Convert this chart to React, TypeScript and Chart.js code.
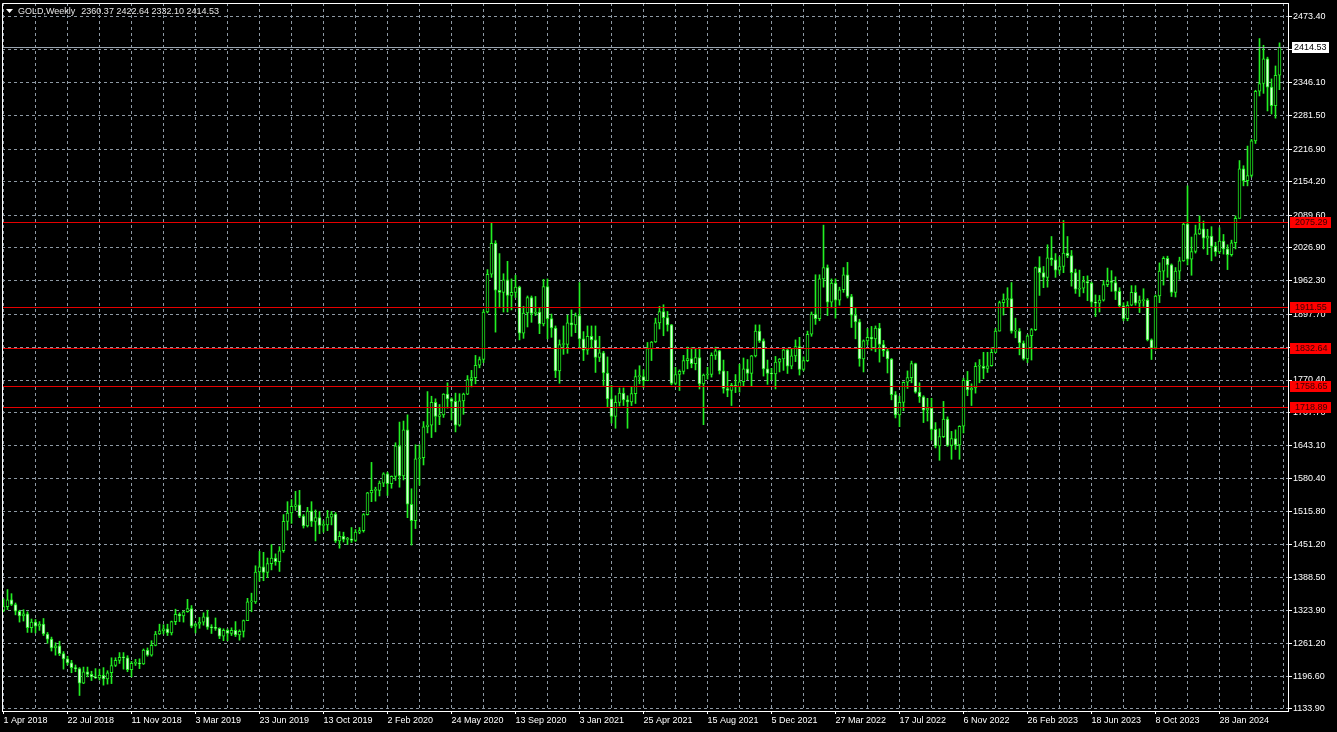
import React, { useEffect, useRef } from "react";
import { Chart, registerables } from "chart.js";

Chart.register(...registerables);

// Weekly OHLC bars [open, high, low, close], weeks starting 1 Apr 2018
const bars2018: number[][] = [
  [1325, 1347, 1322, 1332], [1332, 1365, 1326, 1345], [1345, 1357, 1334, 1336], [1336, 1339, 1316, 1323],
  [1323, 1325, 1302, 1314], [1314, 1326, 1304, 1318], [1318, 1322, 1282, 1291], [1291, 1308, 1282, 1302],
  [1302, 1307, 1281, 1294], [1294, 1303, 1286, 1298], [1298, 1309, 1276, 1279], [1279, 1282, 1261, 1269],
  [1269, 1273, 1246, 1252], [1252, 1262, 1238, 1256], [1256, 1265, 1237, 1241], [1241, 1245, 1211, 1231],
  [1231, 1236, 1219, 1223], [1223, 1228, 1204, 1214], [1214, 1219, 1206, 1212], [1212, 1214, 1160, 1184],
  [1184, 1215, 1183, 1206], [1206, 1215, 1196, 1201], [1201, 1207, 1189, 1196], [1196, 1212, 1193, 1194],
  [1194, 1211, 1190, 1199], [1199, 1214, 1180, 1192], [1192, 1208, 1182, 1204], [1204, 1233, 1183, 1218],
  [1218, 1233, 1216, 1228], [1228, 1243, 1222, 1234], [1234, 1243, 1211, 1233], [1233, 1237, 1206, 1210],
  [1210, 1226, 1196, 1222], [1222, 1230, 1218, 1222], [1222, 1231, 1212, 1221], [1221, 1250, 1220, 1248],
  [1248, 1252, 1236, 1238], [1238, 1266, 1236, 1257], [1257, 1284, 1256, 1279], [1279, 1298, 1278, 1285],
];
const bars2019: number[][] = [
  [1285, 1297, 1279, 1289], [1289, 1298, 1276, 1281], [1281, 1304, 1277, 1303], [1303, 1327, 1297, 1317],
  [1317, 1320, 1303, 1314], [1314, 1324, 1302, 1322], [1322, 1346, 1321, 1328], [1328, 1334, 1291, 1294],
  [1294, 1300, 1281, 1298], [1298, 1311, 1290, 1302], [1302, 1320, 1296, 1312], [1312, 1325, 1288, 1292],
  [1292, 1297, 1280, 1291], [1291, 1310, 1286, 1290], [1290, 1291, 1270, 1275], [1275, 1289, 1266, 1286],
  [1286, 1289, 1266, 1280], [1280, 1291, 1276, 1286], [1286, 1303, 1274, 1277], [1277, 1287, 1267, 1284],
  [1284, 1306, 1273, 1305], [1305, 1348, 1305, 1341], [1341, 1358, 1322, 1341], [1341, 1411, 1338, 1399],
  [1399, 1439, 1381, 1409], [1409, 1437, 1382, 1398], [1398, 1426, 1388, 1415], [1415, 1452, 1403, 1426],
  [1426, 1434, 1412, 1419], [1419, 1448, 1400, 1440], [1440, 1510, 1437, 1497], [1497, 1535, 1480, 1513],
  [1513, 1539, 1493, 1526], [1526, 1555, 1518, 1529], [1529, 1557, 1504, 1507], [1507, 1510, 1484, 1488],
  [1488, 1524, 1486, 1517], [1517, 1535, 1487, 1497], [1497, 1519, 1459, 1504], [1504, 1516, 1473, 1489],
  [1489, 1498, 1476, 1490], [1490, 1518, 1479, 1505], [1505, 1516, 1490, 1511], [1511, 1514, 1456, 1459],
  [1459, 1477, 1445, 1468], [1468, 1476, 1457, 1462], [1462, 1466, 1452, 1463], [1463, 1485, 1456, 1460],
  [1460, 1481, 1458, 1476], [1476, 1485, 1473, 1479], [1479, 1512, 1476, 1510], [1510, 1553, 1509, 1552],
];
const bars2020: number[][] = [
  [1552, 1611, 1535, 1557], [1557, 1563, 1536, 1557], [1557, 1575, 1546, 1571], [1571, 1591, 1564, 1589],
  [1589, 1592, 1547, 1570], [1570, 1585, 1561, 1584], [1584, 1649, 1576, 1643], [1643, 1689, 1563, 1585],
  [1585, 1691, 1577, 1674], [1674, 1703, 1504, 1530], [1530, 1560, 1451, 1498], [1498, 1645, 1483, 1618],
  [1618, 1645, 1567, 1620], [1620, 1690, 1606, 1680], [1680, 1748, 1668, 1683], [1683, 1739, 1659, 1727],
  [1727, 1734, 1670, 1700], [1700, 1723, 1684, 1703], [1703, 1744, 1698, 1743], [1743, 1765, 1716, 1734],
  [1734, 1736, 1693, 1729], [1729, 1745, 1670, 1683], [1683, 1744, 1681, 1730], [1730, 1745, 1704, 1743],
  [1743, 1779, 1742, 1771], [1771, 1789, 1757, 1775], [1775, 1818, 1763, 1799], [1799, 1815, 1794, 1810],
  [1810, 1906, 1804, 1902], [1902, 1984, 1900, 1975], [1975, 2075, 1969, 2035], [2035, 2040, 1863, 1944],
  [1944, 2015, 1910, 1940], [1940, 1976, 1902, 1964], [1964, 2000, 1902, 1934], [1934, 1966, 1906, 1940],
  [1940, 1973, 1930, 1950], [1950, 1952, 1848, 1861], [1861, 1913, 1851, 1900], [1900, 1933, 1873, 1930],
  [1930, 1933, 1882, 1899], [1899, 1932, 1895, 1902], [1902, 1911, 1860, 1879], [1879, 1965, 1875, 1951],
  [1951, 1966, 1850, 1889], [1889, 1898, 1853, 1871], [1871, 1875, 1775, 1788], [1788, 1848, 1764, 1839],
  [1839, 1875, 1820, 1839], [1839, 1896, 1822, 1881], [1881, 1906, 1855, 1877], [1877, 1900, 1862, 1895],
];
const bars2021: number[][] = [
  [1895, 1959, 1834, 1850], [1850, 1864, 1808, 1828], [1828, 1875, 1820, 1855], [1855, 1875, 1832, 1848],
  [1848, 1875, 1785, 1814], [1814, 1855, 1806, 1823], [1823, 1826, 1760, 1784], [1784, 1815, 1717, 1734],
  [1734, 1760, 1687, 1700], [1700, 1740, 1677, 1727], [1727, 1755, 1720, 1745], [1745, 1755, 1721, 1732],
  [1732, 1740, 1677, 1728], [1728, 1758, 1721, 1744], [1744, 1790, 1725, 1777], [1777, 1798, 1763, 1777],
  [1777, 1790, 1756, 1769], [1769, 1843, 1769, 1831], [1831, 1845, 1808, 1844], [1844, 1890, 1843, 1881],
  [1881, 1913, 1869, 1903], [1903, 1916, 1856, 1891], [1891, 1903, 1865, 1877], [1877, 1878, 1761, 1764],
  [1764, 1795, 1761, 1781], [1781, 1790, 1750, 1787], [1787, 1818, 1782, 1808], [1808, 1834, 1792, 1812],
  [1812, 1833, 1794, 1802], [1802, 1832, 1790, 1814], [1814, 1832, 1753, 1763], [1763, 1782, 1684, 1780],
  [1780, 1795, 1772, 1781], [1781, 1823, 1776, 1818], [1818, 1834, 1810, 1827], [1827, 1828, 1782, 1788],
  [1788, 1809, 1745, 1754], [1754, 1787, 1738, 1750], [1750, 1764, 1721, 1760], [1760, 1781, 1746, 1757],
  [1757, 1801, 1747, 1767], [1767, 1813, 1759, 1792], [1792, 1810, 1771, 1783], [1783, 1818, 1758, 1817],
  [1817, 1877, 1815, 1865], [1865, 1877, 1843, 1846], [1846, 1850, 1778, 1792], [1792, 1809, 1762, 1783],
  [1783, 1793, 1770, 1782], [1782, 1816, 1753, 1805], [1805, 1812, 1786, 1811], [1811, 1831, 1789, 1829],
];
const bars2022: number[][] = [
  [1829, 1832, 1783, 1797], [1797, 1830, 1792, 1817], [1817, 1848, 1806, 1835], [1835, 1853, 1780, 1791],
  [1791, 1815, 1788, 1808], [1808, 1865, 1806, 1859], [1859, 1902, 1855, 1898], [1898, 1974, 1878, 1889],
  [1889, 1974, 1885, 1966], [1966, 2070, 1950, 1988], [1988, 1993, 1895, 1921], [1921, 1966, 1910, 1958],
  [1958, 1966, 1890, 1925], [1925, 1950, 1915, 1945], [1945, 1988, 1940, 1974], [1974, 1998, 1929, 1932],
  [1932, 1936, 1872, 1896], [1896, 1909, 1850, 1883], [1883, 1888, 1797, 1811], [1811, 1848, 1786, 1846],
  [1846, 1870, 1838, 1853], [1853, 1874, 1828, 1850], [1850, 1875, 1825, 1871], [1871, 1880, 1805, 1839],
  [1839, 1847, 1816, 1827], [1827, 1830, 1784, 1811], [1811, 1812, 1732, 1742], [1742, 1748, 1697, 1703],
  [1703, 1739, 1680, 1727], [1727, 1767, 1711, 1766], [1766, 1788, 1754, 1775], [1775, 1807, 1765, 1802],
  [1802, 1803, 1745, 1747], [1747, 1765, 1727, 1738], [1738, 1740, 1688, 1712], [1712, 1735, 1691, 1716],
  [1716, 1735, 1654, 1675], [1675, 1688, 1639, 1643], [1643, 1676, 1615, 1661], [1661, 1729, 1659, 1695],
  [1695, 1699, 1642, 1644], [1644, 1671, 1617, 1657], [1657, 1674, 1636, 1645], [1645, 1682, 1617, 1681],
  [1681, 1774, 1668, 1770], [1770, 1787, 1740, 1751], [1751, 1763, 1721, 1755], [1755, 1804, 1745, 1797],
  [1797, 1810, 1765, 1797], [1797, 1824, 1773, 1793], [1793, 1824, 1785, 1798], [1798, 1833, 1797, 1824],
];
const bars2023: number[][] = [
  [1824, 1870, 1823, 1865], [1865, 1923, 1865, 1920], [1920, 1937, 1896, 1926], [1926, 1949, 1911, 1928],
  [1928, 1959, 1861, 1865], [1865, 1890, 1852, 1865], [1865, 1870, 1819, 1842], [1842, 1846, 1809, 1811],
  [1811, 1858, 1804, 1856], [1856, 1870, 1809, 1868], [1868, 1989, 1866, 1988], [1988, 2009, 1934, 1978],
  [1978, 1990, 1949, 1969], [1969, 2032, 1950, 2007], [2007, 2048, 1992, 2003], [2003, 2015, 1969, 1983],
  [1983, 2009, 1975, 1990], [1990, 2079, 1978, 2016], [2016, 2048, 2007, 2011], [2011, 2021, 1952, 1978],
  [1978, 1985, 1938, 1946], [1946, 1983, 1932, 1948], [1948, 1971, 1939, 1961], [1961, 1972, 1924, 1958],
  [1958, 1960, 1910, 1921], [1921, 1935, 1893, 1919], [1919, 1934, 1902, 1925], [1925, 1963, 1923, 1955],
  [1955, 1987, 1951, 1962], [1962, 1982, 1942, 1959], [1959, 1970, 1926, 1942], [1942, 1949, 1912, 1914],
  [1914, 1920, 1885, 1889], [1889, 1922, 1885, 1915], [1915, 1953, 1914, 1940], [1940, 1953, 1915, 1919],
  [1919, 1933, 1901, 1924], [1924, 1947, 1913, 1925], [1925, 1928, 1846, 1848], [1848, 1850, 1810, 1832],
  [1832, 1935, 1830, 1933], [1933, 1997, 1920, 1981], [1981, 2009, 1954, 2006], [2006, 2010, 1969, 1993],
  [1993, 1995, 1932, 1940], [1940, 1988, 1931, 1981], [1981, 2008, 1965, 2001], [2001, 2075, 2000, 2072],
  [2072, 2146, 1993, 2004], [2004, 2047, 1973, 2019], [2019, 2070, 2016, 2053], [2053, 2088, 2052, 2063],
  [2063, 2078, 2024, 2045],
];
const bars2024: number[][] = [
  [2045, 2062, 2013, 2049], [2049, 2067, 2001, 2029], [2029, 2037, 2010, 2018], [2018, 2065, 2015, 2039],
  [2039, 2052, 2014, 2024], [2024, 2032, 1984, 2013], [2013, 2041, 2010, 2036], [2036, 2088, 2024, 2083],
  [2083, 2195, 2083, 2179], [2179, 2185, 2146, 2156], [2156, 2223, 2146, 2166], [2166, 2236, 2163, 2233],
  [2233, 2331, 2228, 2329], [2329, 2431, 2320, 2344], [2344, 2418, 2325, 2392], [2392, 2395, 2291, 2337],
  [2337, 2353, 2285, 2301], [2301, 2378, 2277, 2360], [2360.37, 2422.64, 2332.1, 2414.53],
];

const weeklyBars = [...bars2018, ...bars2019, ...bars2020, ...bars2021, ...bars2022, ...bars2023, ...bars2024];

// x-axis labels, one every 16 weeks
const xTickLabels = [
  "1 Apr 2018", "22 Jul 2018", "11 Nov 2018", "3 Mar 2019", "23 Jun 2019", "13 Oct 2019", "2 Feb 2020",
  "24 May 2020", "13 Sep 2020", "3 Jan 2021", "25 Apr 2021", "15 Aug 2021", "5 Dec 2021", "27 Mar 2022",
  "17 Jul 2022", "6 Nov 2022", "26 Feb 2023", "18 Jun 2023", "8 Oct 2023", "28 Jan 2024",
];
// price axis tick values
const yTickValues = [
  1133.9, 1196.6, 1261.2, 1323.9, 1388.5, 1451.2, 1515.8, 1580.4, 1643.1, 1707.7, 1770.4,
  1833.1, 1897.7, 1962.3, 2026.9, 2089.6, 2154.2, 2216.9, 2281.5, 2346.1, 2410.7, 2473.4,
];
const levelPrices = [2075.29, 1911.55, 1832.64, 1758.65, 1718.89];
const lastPrice = 2414.53;
const headerSymbol = "GOLD,Weekly";
const headerValues = "2360.37 2422.64 2332.10 2414.53";

const Y_MIN = 1130.0;
const Y_MAX = 2499.8;
const X_MIN = -0.375;
const X_MAX = 321.125;

const FONT_FAMILY = '"Liberation Sans", Arial, sans-serif';
const GREEN = "#22ee22";
const BEAR_FILL = "#d8ffd8";
const GRID = "#8e99a4";

export default function App() {
  const ref = useRef<HTMLCanvasElement | null>(null);

  useEffect(() => {
    document.body.style.margin = "0";
    document.body.style.background = "#000";
    const canvas = ref.current;
    if (!canvas) return;

    const bodies = weeklyBars.map((b, i) => ({ x: i, y: [b[0], b[3]] }));
    const wicks = weeklyBars.map((b, i) => ({ x: i, y: [b[2], b[1]] }));
    const bull = weeklyBars.map((b) => b[3] >= b[0]);

    const overlay = {
      id: "mt4Overlay",
      beforeDraw(chart: any) {
        const c = chart.ctx;
        c.save();
        c.fillStyle = "#000";
        c.fillRect(0, 0, chart.width, chart.height);
        c.restore();
      },
      afterDraw(chart: any) {
        const c = chart.ctx as CanvasRenderingContext2D;
        const a = chart.chartArea;
        const ys = chart.scales.y;
        c.save();
        // frame top/left
        c.strokeStyle = "#ffffff";
        c.lineWidth = 1;
        c.beginPath();
        c.moveTo(a.left + 0.5, a.bottom);
        c.lineTo(a.left + 0.5, a.top + 0.5);
        c.lineTo(a.right, a.top + 0.5);
        c.stroke();

        // current price line
        const py = Math.round(ys.getPixelForValue(lastPrice)) + 0.5;
        c.strokeStyle = "#9ba5b0";
        c.beginPath();
        c.moveTo(a.left + 1, py);
        c.lineTo(a.right, py);
        c.stroke();

        // horizontal levels
        c.strokeStyle = "#e60000";
        levelPrices.forEach((p) => {
          const y = Math.round(ys.getPixelForValue(p)) + 0.5;
          c.beginPath();
          c.moveTo(a.left + 1, y);
          c.lineTo(a.right, y);
          c.stroke();
        });

        c.font = `9px ${FONT_FAMILY}`;
        c.textBaseline = "middle";
        c.textAlign = "left";
        levelPrices.forEach((p) => {
          const y = Math.round(ys.getPixelForValue(p));
          c.fillStyle = "#ff0000";
          c.fillRect(a.right + 2, y - 5, 41, 11);
          c.fillStyle = "#3a0000";
          c.fillText(p.toFixed(2), a.right + 7, y + 0.5);
        });
        const ly = Math.round(ys.getPixelForValue(lastPrice));
        c.fillStyle = "#ffffff";
        c.fillRect(a.right + 4, ly - 5, 37, 11);
        c.fillStyle = "#000000";
        c.fillText(lastPrice.toFixed(2), a.right + 6, ly + 0.5);

        // header
        c.fillStyle = "#ffffff";
        c.beginPath();
        c.moveTo(6, 9);
        c.lineTo(13, 9);
        c.lineTo(9.5, 13);
        c.closePath();
        c.fill();
        c.fillStyle = "#e6e6e6";
        c.fillText(headerSymbol, 18, 11.5);
        const w = c.measureText(headerSymbol + "  ").width;
        c.fillText(headerValues, 18 + w + 1, 11.5);
        c.restore();
      },
    };

    const chart = new Chart(canvas, {
      type: "bar",
      data: {
        datasets: [
          {
            label: "body",
            data: bodies as any,
            order: 0,
            grouped: false,
            barThickness: 3,
            borderWidth: 1,
            borderColor: GREEN,
            borderSkipped: false,
            minBarLength: 1,
            backgroundColor: (ctx: any) => (bull[ctx.dataIndex] ? "#000000" : BEAR_FILL),
          } as any,
          {
            label: "wick",
            data: wicks as any,
            order: 1,
            grouped: false,
            barThickness: 1,
            borderWidth: 0,
            backgroundColor: GREEN,
          } as any,
        ],
      },
      options: {
        animation: false,
        responsive: false,
        maintainAspectRatio: false,
        events: [],
        layout: { padding: { left: 2, top: 3, right: 0, bottom: 0 } },
        plugins: { legend: { display: false }, tooltip: { enabled: false }, title: { display: false } },
        scales: {
          x: {
            type: "linear",
            min: X_MIN,
            max: X_MAX,
            offset: false,
            afterBuildTicks: (s: any) => {
              const t = [];
              for (let v = 0; v <= 320; v += 8) t.push({ value: v });
              s.ticks = t;
            },
            afterFit: (s: any) => {
              s.height = 21;
              s.paddingLeft = 0;
              s.paddingRight = 0;
              s.paddingTop = 0;
              s.paddingBottom = 0;
            },
            grid: {
              display: true,
              offset: false,
              color: GRID,
              lineWidth: 1,
              drawTicks: true,
              tickLength: 3,
              tickWidth: 1,
              tickBorderDash: [],
              tickColor: (ctx: any) => {
                const v = ctx.tick ? ctx.tick.value : -1;
                return v % 16 === 0 && v / 16 < xTickLabels.length ? "#ffffff" : "rgba(0,0,0,0)";
              },
            },
            border: { display: true, color: "#ffffff", width: 1, dash: [3, 3] },
            ticks: {
              autoSkip: false,
              maxRotation: 0,
              minRotation: 0,
              align: "start",
              padding: 1,
              color: "#ffffff",
              font: { family: FONT_FAMILY, size: 9 },
              callback: (v: any) => {
                const n = Number(v);
                return n % 16 === 0 && n / 16 < xTickLabels.length ? xTickLabels[n / 16] : "";
              },
            },
          } as any,
          y: {
            type: "linear",
            position: "right",
            min: Y_MIN,
            max: Y_MAX,
            afterBuildTicks: (s: any) => {
              s.ticks = yTickValues.map((v) => ({ value: v }));
            },
            afterFit: (s: any) => {
              s.width = 49;
              s.paddingTop = 0;
              s.paddingBottom = 0;
              s.paddingLeft = 0;
              s.paddingRight = 0;
            },
            grid: {
              display: true,
              color: GRID,
              lineWidth: 1,
              drawTicks: true,
              tickLength: 4,
              tickWidth: 1,
              tickBorderDash: [],
              tickColor: "#ffffff",
            },
            border: { display: true, color: "#ffffff", width: 1, dash: [3, 3] },
            ticks: {
              autoSkip: false,
              padding: 1,
              color: "#ffffff",
              font: { family: FONT_FAMILY, size: 9 },
              callback: (v: any) => Number(v).toFixed(2),
            },
          } as any,
        },
      } as any,
      plugins: [overlay],
    });

    return () => chart.destroy();
  }, []);

  return (
    <canvas
      ref={ref}
      width={1337}
      height={732}
      style={{ display: "block", width: 1337, height: 732, background: "#000" }}
    />
  );
}
